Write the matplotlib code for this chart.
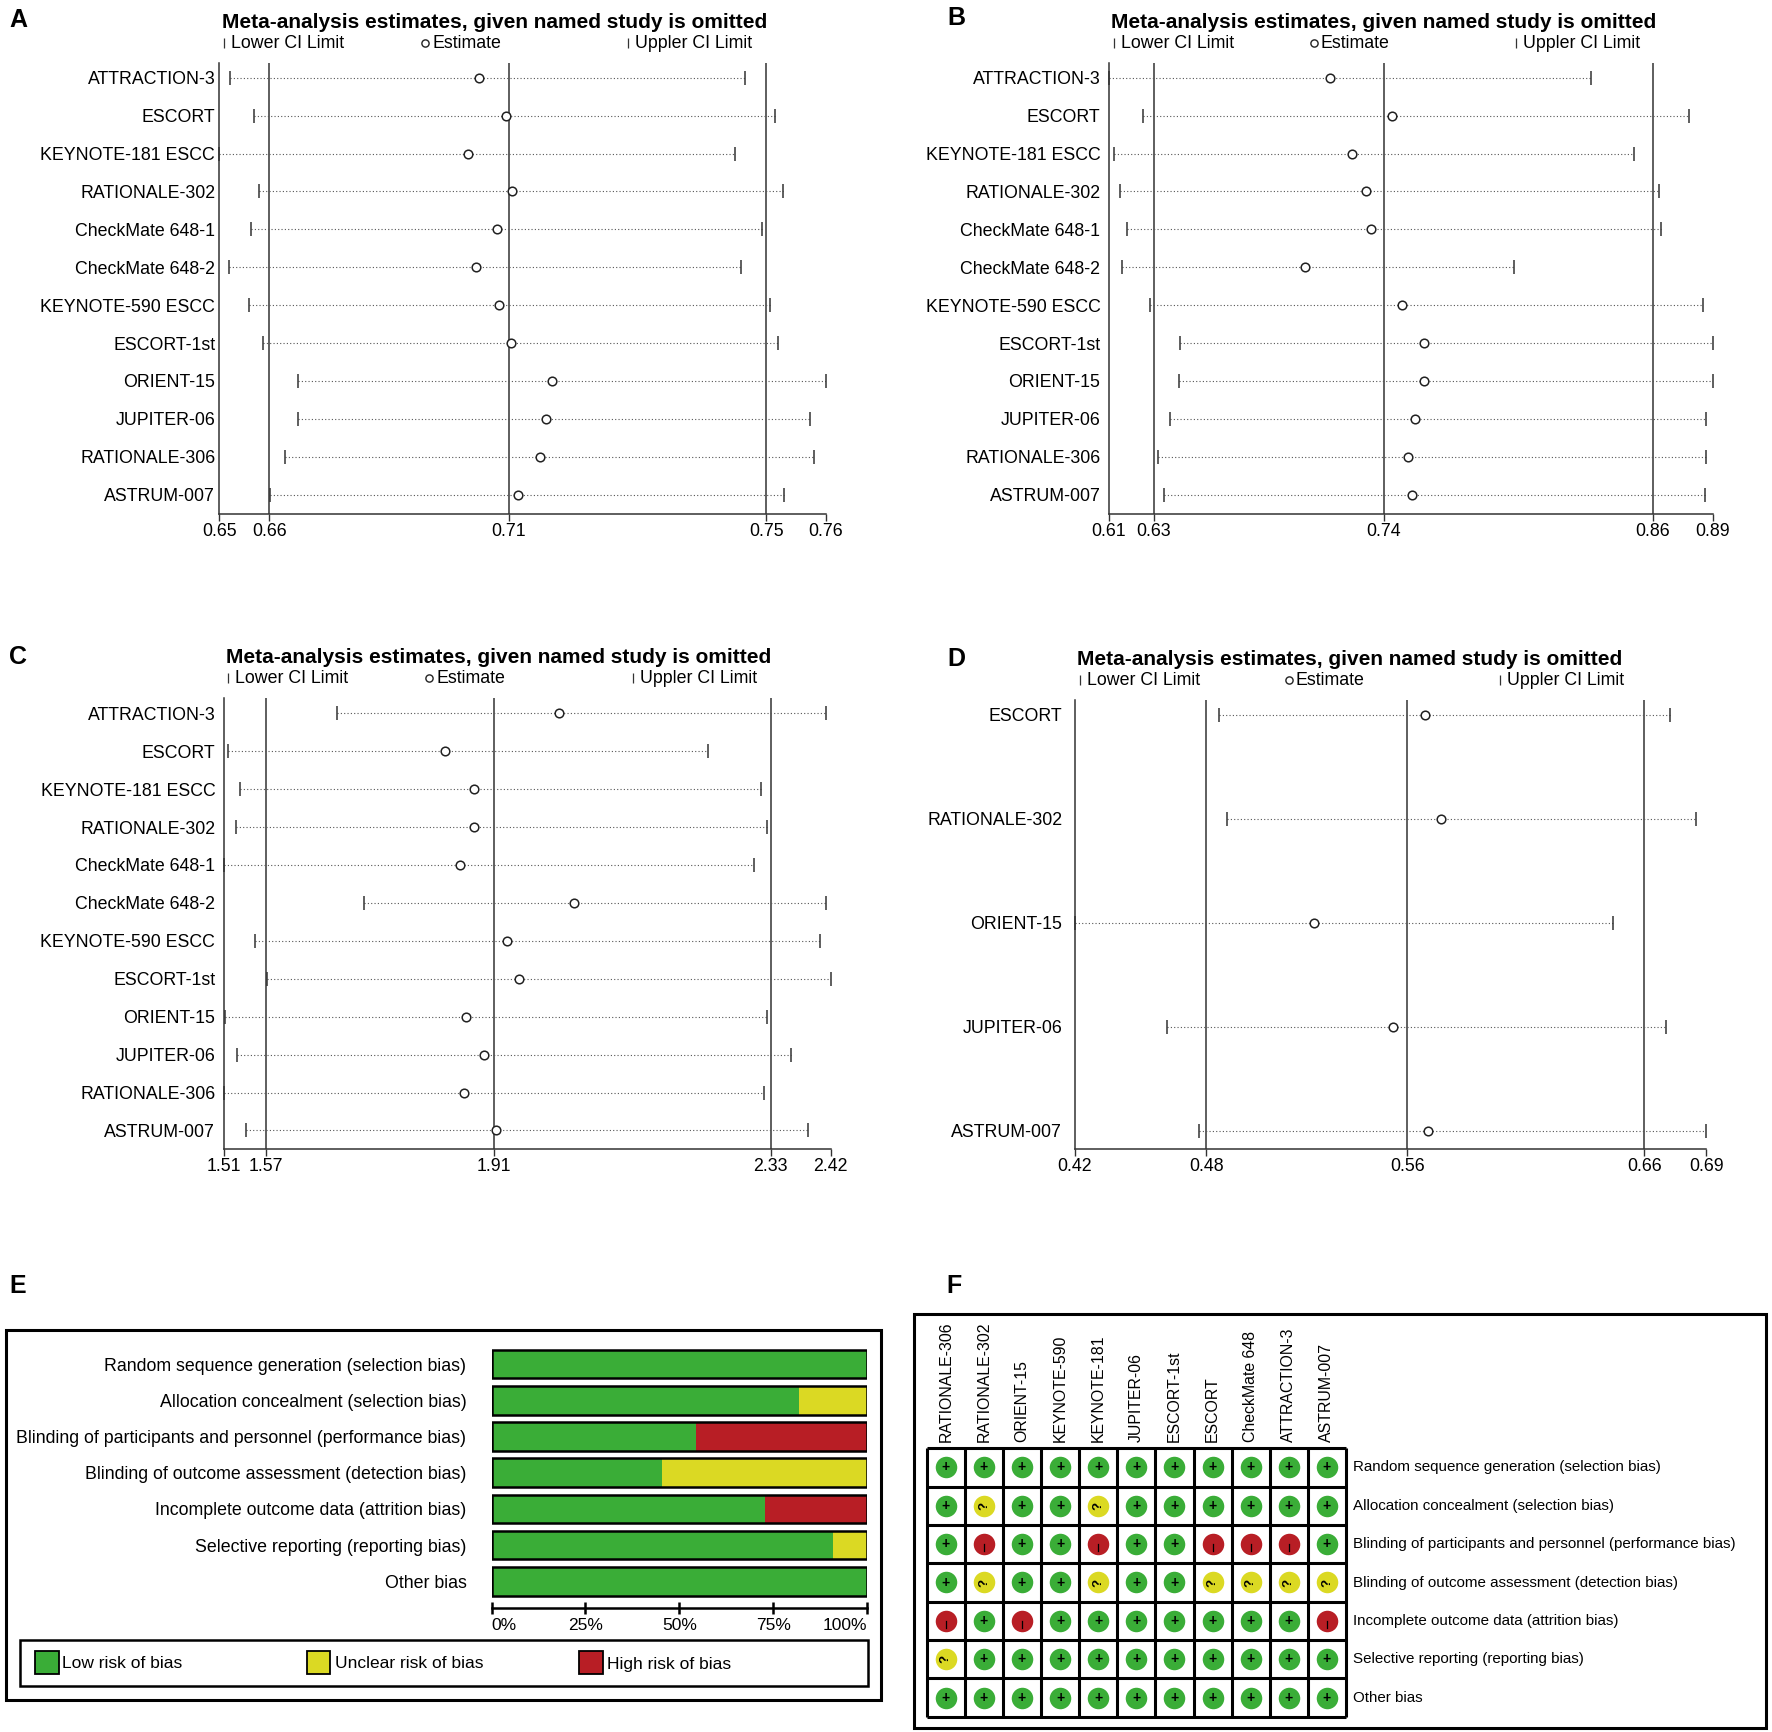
import numpy as np
import matplotlib
matplotlib.use('Agg')
import matplotlib.pyplot as plt
import matplotlib.transforms as mtransforms
from matplotlib.patches import Rectangle

plt.rcParams['font.family'] = ['Liberation Sans', 'DejaVu Sans']

W, H = 1772, 1732

# ---------------- data: leave-one-out sensitivity ----------------
studies_abc = ['ATTRACTION-3', 'ESCORT', 'KEYNOTE-181 ESCC', 'RATIONALE-302',
               'CheckMate 648-1', 'CheckMate 648-2', 'KEYNOTE-590 ESCC',
               'ESCORT-1st', 'ORIENT-15', 'JUPITER-06', 'RATIONALE-306', 'ASTRUM-007']

lo_a = [0.6560, 0.6603, 0.6541, 0.6612, 0.6597, 0.6558, 0.6593, 0.6618, 0.6682, 0.6682, 0.6658, 0.6631]
est_a = [0.7004, 0.7053, 0.6985, 0.7064, 0.7037, 0.7000, 0.7041, 0.7061, 0.7134, 0.7124, 0.7113, 0.7075]
hi_a = [0.7479, 0.7533, 0.7462, 0.7547, 0.7509, 0.7473, 0.7524, 0.7539, 0.7624, 0.7595, 0.7602, 0.7549]
overall_a = [0.6630, 0.7058, 0.7517]
ticks_a = ['0.65', '0.66', '0.71', '0.75', '0.76']

lo_b = [0.6093, 0.6252, 0.6119, 0.6146, 0.6178, 0.6154, 0.6282, 0.6419, 0.6417, 0.6377, 0.6322, 0.6347]
est_b = [0.7114, 0.7399, 0.7212, 0.7280, 0.7299, 0.6997, 0.7443, 0.7545, 0.7547, 0.7506, 0.7473, 0.7488]
hi_b = [0.8315, 0.8766, 0.8513, 0.8628, 0.8637, 0.7959, 0.8831, 0.8877, 0.8876, 0.8845, 0.8843, 0.8840]
overall_b = [0.6300, 0.7359, 0.8600]
ticks_b = ['0.61', '0.63', '0.74', '0.86', '0.89']

lo_c = [1.6772, 1.5138, 1.5312, 1.5252, 1.5067, 1.7177, 1.5542, 1.5727, 1.5094, 1.5274, 1.5070, 1.5411]
est_c = [2.0112, 1.8390, 1.8832, 1.8832, 1.8629, 2.0341, 1.9335, 1.9515, 1.8718, 1.8978, 1.8689, 1.9168]
hi_c = [2.4127, 2.2359, 2.3142, 2.3244, 2.3041, 2.4130, 2.4043, 2.4196, 2.3244, 2.3601, 2.3193, 2.3856]
overall_c = [1.5700, 1.9133, 2.3296]
ticks_c = ['1.51', '1.57', '1.91', '2.33', '2.42']

studies_d = ['ESCORT', 'RATIONALE-302', 'ORIENT-15', 'JUPITER-06', 'ASTRUM-007']
lo_d = [0.4810, 0.4844, 0.4191, 0.4585, 0.4724]
est_d = [0.5695, 0.5761, 0.5217, 0.5556, 0.5708]
hi_d = [0.6747, 0.6858, 0.6499, 0.6727, 0.6902]
overall_d = [0.4755, 0.5619, 0.6636]
ticks_d = ['0.42', '0.48', '0.56', '0.66', '0.69']

# ---------------- data: risk of bias ----------------
domains = ['Random sequence generation (selection bias)',
           'Allocation concealment (selection bias)',
           'Blinding of participants and personnel (performance bias)',
           'Blinding of outcome assessment (detection bias)',
           'Incomplete outcome data (attrition bias)',
           'Selective reporting (reporting bias)',
           'Other bias']
rob_studies = ['RATIONALE-306', 'RATIONALE-302', 'ORIENT-15', 'KEYNOTE-590', 'KEYNOTE-181',
               'JUPITER-06', 'ESCORT-1st', 'ESCORT', 'CheckMate 648', 'ATTRACTION-3', 'ASTRUM-007']
judgements = ['+++++++++++',
              '+?++?++++++',
              '+-++-++---+',
              '+?++?++????',
              '-+-+++++++-',
              '?++++++++++',
              '+++++++++++']
risk_names = ['Low risk of bias', 'Unclear risk of bias', 'High risk of bias']

GREEN, YELLOW, RED = '#3aad37', '#dbd923', '#b81e25'
risk_colors = {'+': GREEN, '?': YELLOW, '-': RED}

title = 'Meta-analysis estimates, given named study is omitted'

fig = plt.figure(figsize=(W / 100, H / 100), dpi=100)


def rect(left, top, right, bottom):
    return [left / W, 1 - bottom / H, (right - left) / W, (bottom - top) / H]


def box(left, top, right, bottom, lw):
    fig.add_artist(Rectangle((left / W, 1 - bottom / H), (right - left) / W, (bottom - top) / H,
                             transform=fig.transFigure, fill=False, lw=lw, ec='black'))


def forest(pos, names, lo, est, hi, overall, ticklabels, ylim, pad):
    ax = fig.add_axes(rect(*pos))
    y = np.arange(1, len(names) + 1)
    xmin, xmax = min(lo), max(hi)
    ax.set_xlim(xmin, xmax)
    ax.set_ylim(ylim)
    for v in overall:
        ax.axvline(v, color='#333333', lw=1.1, zorder=1)
    ax.hlines(y, lo, hi, colors='#555555', lw=0.8, linestyles=(0, (1, 2)), zorder=2)
    ax.plot(lo, y, ls='none', marker='|', ms=9.5, mew=1.1, color='#333333', clip_on=False, zorder=3)
    ax.plot(hi, y, ls='none', marker='|', ms=9.5, mew=1.1, color='#333333', clip_on=False, zorder=3)
    ax.plot(est, y, ls='none', marker='o', ms=6.2, mew=1.1, mfc='white', mec='#222222',
            clip_on=False, zorder=4)
    ax.set_xticks([xmin] + overall + [xmax], ticklabels)
    ax.set_yticks(y, names)
    ax.tick_params(axis='y', length=0, pad=pad, labelsize=12.8)
    ax.tick_params(axis='x', length=5, width=1.0, pad=1.5, labelsize=12.8, color='#333333')
    for s in ['top', 'right']:
        ax.spines[s].set_visible(False)
    for s in ['left', 'bottom']:
        ax.spines[s].set_linewidth(1.1)
        ax.spines[s].set_color('#333333')

    ax.annotate(title, xy=(0, 1), xycoords='axes fraction', xytext=(2.5, 41),
                textcoords='offset pixels', ha='left', va='center', fontsize=15, fontweight='bold')
    trans = mtransforms.offset_copy(ax.transAxes, fig=fig, x=0, y=20, units='dots')
    legend_items = [(0.008, '|', 'Lower CI Limit'), (0.339, 'o', 'Estimate'), (0.674, '|', 'Uppler CI Limit')]
    for f, m, txt in legend_items:
        if m == 'o':
            ax.plot([f], [1], transform=trans, marker='o', ms=5.2, mew=1.0, mfc='white',
                    mec='#222222', clip_on=False)
        else:
            ax.plot([f], [1], transform=trans, marker='|', ms=7, mew=0.9, color='#333333',
                    clip_on=False)
        ax.annotate(txt, xy=(f, 1), xycoords='axes fraction', xytext=(7, 20),
                    textcoords='offset pixels', ha='left', va='center', fontsize=12.8)
    return ax


forest((219.4, 63, 826, 514), studies_abc, lo_a, est_a, hi_a, overall_a, ticks_a, (12.51, 0.612), 3)
forest((1108.8, 63, 1713, 514), studies_abc, lo_b, est_b, hi_b, overall_b, ticks_b, (12.51, 0.612), 6)
forest((223.6, 698.3, 830.6, 1149), studies_abc, lo_c, est_c, hi_c, overall_c, ticks_c, (12.49, 0.604), 6)
forest((1074.8, 700, 1706.4, 1149), studies_d, lo_d, est_d, hi_d, overall_d, ticks_d, (5.173, 0.859), 9)

# panel letters
for letter, px, py in [('A', 9, 20), ('B', 947, 18), ('C', 9, 657), ('D', 947, 659),
                       ('E', 9, 1286), ('F', 946, 1286)]:
    fig.text(px / W, 1 - py / H, letter, fontsize=18, fontweight='bold', ha='left', va='center')

# ---------------- E: risk of bias graph ----------------
n_st = len(rob_studies)
pct = {k: np.array([row.count(k) / n_st * 100 for row in judgements]) for k in '+?-'}
box(6, 1330, 881, 1700, 2.2)
axe = fig.add_axes(rect(491.5, 1346, 867.2, 1608))
yy = np.arange(len(domains))
left = np.zeros(len(domains))
for k in '+?-':
    axe.barh(yy, pct[k], left=left, height=0.79, color=risk_colors[k], lw=0)
    left = left + pct[k]
axe.barh(yy, 100, height=0.79, fill=False, ec='black', lw=1.8)
axe.set_xlim(0, 100)
axe.set_ylim(6.74, -0.5)
axe.set_yticks(yy, domains)
axe.tick_params(axis='y', length=0, pad=18, labelsize=12.8)
axe.set_xticks([0, 25, 50, 75, 100], ['0%', '25%', '50%', '75%', '100%'])
axe.tick_params(axis='x', direction='inout', length=8, width=1.8, pad=3, labelsize=12.5)
xl = axe.get_xticklabels()
xl[0].set_ha('left')
xl[-1].set_ha('right')
for s in ['top', 'right', 'left']:
    axe.spines[s].set_visible(False)
axe.spines['bottom'].set_linewidth(1.8)

box(20, 1640, 868, 1686, 1.8)
for name, k, sx, tx in zip(risk_names, '+?-', [35, 306.5, 579], [62.4, 335, 607.3]):
    fig.add_artist(Rectangle((sx / W, 1 - 1674 / H), 23.5 / W, 23.5 / H, transform=fig.transFigure,
                             fc=risk_colors[k], ec='black', lw=1.3))
    fig.text(tx / W, 1 - 1664 / H, name, fontsize=12.5, ha='left', va='center')

# ---------------- F: risk of bias summary ----------------
box(914, 1314, 1766, 1728, 2.2)
grid_l, grid_t, grid_r, grid_b = 926.7, 1448.3, 1346, 1716.7
axf = fig.add_axes(rect(grid_l, grid_t, grid_r, grid_b))
axf.set_xlim(0, n_st)
axf.set_ylim(len(domains), 0)
axf.axis('off')
axf.vlines(np.arange(n_st + 1), 0, len(domains), colors='black', lw=2.2, clip_on=False)
axf.hlines(np.arange(len(domains) + 1), 0, n_st, colors='black', lw=2.2, clip_on=False)
for i, row in enumerate(judgements):
    for j, k in enumerate(row):
        axf.scatter(j + 0.5, i + 0.5, s=240, color=risk_colors[k], lw=0, zorder=3)
        if k == '+':
            axf.text(j + 0.5, i + 0.5, '+', ha='center', va='center', fontsize=10,
                     fontweight='bold', zorder=4)
        elif k == '?':
            axf.text(j + 0.5, i + 0.5, '?', ha='center', va='center', fontsize=9.5,
                     fontweight='bold', rotation=90, zorder=4)
        else:
            axf.plot([j + 0.5, j + 0.5], [i + 0.5, i + 0.68], color='black', lw=0.9, zorder=4)
cw = (grid_r - grid_l) / n_st
rh = (grid_b - grid_t) / len(domains)
for j, s in enumerate(rob_studies):
    fig.text((grid_l + cw * (j + 0.5)) / W, 1 - 1441.7 / H, s, rotation=90, ha='center',
             va='bottom', fontsize=11.4)
for i, d in enumerate(domains):
    fig.text(1353 / W, 1 - (grid_t + rh * (i + 0.5)) / H, d, ha='left', va='center', fontsize=10.9)

fig.savefig('out.png', dpi=100)
